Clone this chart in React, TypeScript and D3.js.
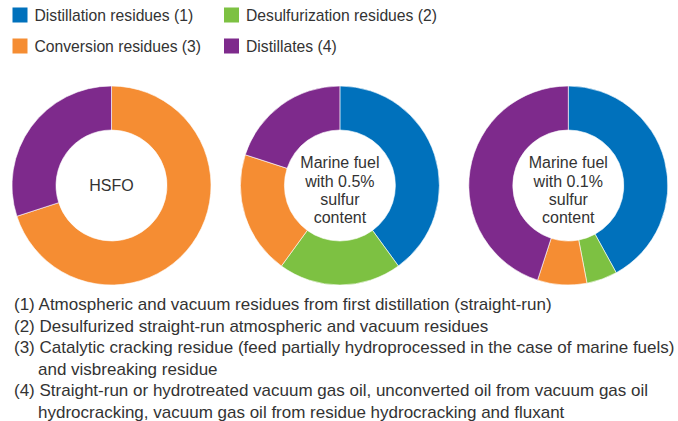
import React from "react";
import * as d3 from "d3";

// legend categories and colours
const categories = [
  "Distillation residues (1)",
  "Desulfurization residues (2)",
  "Conversion residues (3)",
  "Distillates (4)",
];
const colors = ["#0071bc", "#7dc142", "#f58d33", "#7e2a8c"];

// shares (%) per fuel, in category order
const hsfo = [0, 0, 70, 30];
const marine05 = [40, 20, 20, 20];
const marine01 = [42, 5, 8, 45];

const fuelLabels = [
  ["HSFO"],
  ["Marine fuel", "with 0.5%", "sulfur", "content"],
  ["Marine fuel", "with 0.1%", "sulfur", "content"],
];

const notes = [
  "(1) Atmospheric and vacuum residues from first distillation (straight-run)",
  "(2) Desulfurized straight-run atmospheric and vacuum residues",
  "(3) Catalytic cracking residue (feed partially hydroprocessed in the case of marine fuels)",
  "     and visbreaking residue",
  "(4) Straight-run or hydrotreated vacuum gas oil, unconverted oil from vacuum gas oil",
  "     hydrocracking, vacuum gas oil from residue hydrocracking and fluxant",
];

const FONT = "'Liberation Sans', Arial, Helvetica, sans-serif";
const TEXT = "#333333";

export default function App() {
  const width = 678;
  const height = 421;
  const series = [hsfo, marine05, marine01];

  const xScale = d3.scalePoint<number>().domain([0, 1, 2]).range([111.5, 568.3]);
  const cy = 185.5;
  const outerR = 99.5;
  const innerR = 55.5;

  const pie = d3
    .pie<number>()
    .sort(null)
    .value((d) => d);
  const arc = d3.arc<d3.PieArcDatum<number>>().innerRadius(innerR).outerRadius(outerR);

  // legend layout: 2 columns x 2 rows
  const legendX = d3.scaleOrdinal<number, number>().domain([0, 1]).range([12.5, 224]);
  const legendY = d3.scaleOrdinal<number, number>().domain([0, 1]).range([7.5, 38.5]);

  const noteY = d3.scaleLinear().domain([0, 1]).range([310, 331.6]);

  return (
    <div style={{ position: "absolute", left: 0, top: 0 }}>
      <svg width={width} height={height} style={{ display: "block" }}>
        <rect width={width} height={height} fill="#fff" />

        {/* legend */}
        {categories.map((c, i) => {
          const col = i % 2;
          const row = Math.floor(i / 2);
          const x = legendX(col);
          const y = legendY(row);
          return (
            <g key={c}>
              <rect x={x} y={y} width={15} height={15} fill={colors[i]} />
              <text
                x={x + 22}
                y={y + 13.3}
                fontFamily={FONT}
                fontSize={15.7}
                fill={TEXT}
              >
                {c}
              </text>
            </g>
          );
        })}

        {/* donuts */}
        {series.map((values, k) => {
          const arcs = pie(values).filter((a) => a.data > 0);
          const lines = fuelLabels[k];
          const lh = 18.3;
          // single label sits on the centre; multi-line block sits a bit low
          const first = lines.length > 1 ? -17.2 : 5.8;
          return (
            <g key={k} transform={`translate(${xScale(k)},${cy})`}>
              {arcs.map((a) => (
                <path
                  key={a.index}
                  d={arc(a) || ""}
                  fill={colors[a.index]}
                  stroke="#fff"
                  strokeWidth={0.6}
                />
              ))}
              {lines.map((t, j) => (
                <text
                  key={j}
                  x={0}
                  y={first + j * lh}
                  textAnchor="middle"
                  fontFamily={FONT}
                  fontSize={16}
                  fill={TEXT}
                >
                  {t}
                </text>
              ))}
            </g>
          );
        })}

        {/* footnotes */}
        {notes.map((n, i) => (
          <text
            key={i}
            x={n.startsWith(" ") ? 38 : 14}
            y={noteY(i)}
            fontFamily={FONT}
            fontSize={17}
            fill={TEXT}
          >
            {n.trim()}
          </text>
        ))}
      </svg>
    </div>
  );
}
